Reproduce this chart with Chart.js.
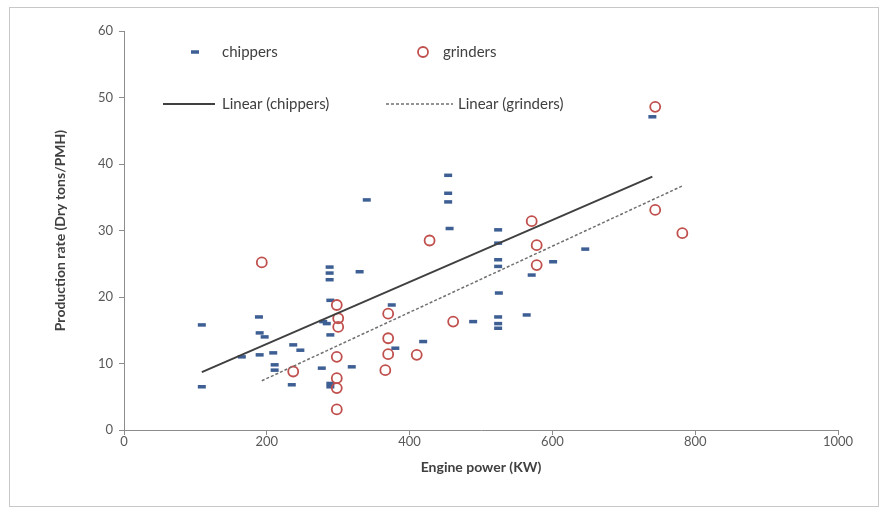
<!DOCTYPE html>
<html>
<head>
<meta charset="utf-8">
<script src="https://cdn.jsdelivr.net/npm/chart.js@4"></script>
<style>
  body { margin: 0; background: #fff; }
  .wrap { position: relative; width: 886px; height: 514px; }
  .frame { position: absolute; left: 9px; top: 7px; width: 868px; height: 498px; border: 1px solid #c8c8c8; pointer-events: none; }
</style>
</head>
<body>
<div class="wrap">
  <canvas id="chart" width="886" height="514"></canvas>
  <div class="frame"></div>
</div>
<script>
// chippers: engine power (kW) / production rate
const chipperPower = [109, 109, 165, 189, 190, 197, 190, 209, 211, 211, 235, 237, 247, 277, 279, 284,
  288, 288, 288, 289, 289, 289, 289, 319, 330, 340, 375, 380, 419, 454, 454, 454, 456, 489,
  524, 524, 524, 524, 525, 524, 524, 524, 564, 571, 601, 646, 740];
const chipperRate = [15.8, 6.5, 11.0, 17.0, 14.6, 14.0, 11.3, 11.6, 9.8, 9.0, 6.8, 12.8, 12.0, 9.3, 16.3, 16.0,
  24.5, 23.6, 22.6, 19.5, 14.3, 7.0, 6.5, 9.5, 23.8, 34.6, 18.8, 12.3, 13.3, 38.3, 35.6, 34.3, 30.3, 16.3,
  30.1, 28.1, 25.6, 24.6, 20.6, 17.0, 16.0, 15.3, 17.3, 23.3, 25.3, 27.2, 47.1];

// grinders
const grinderPower = [193, 237, 298, 300, 300, 298, 298, 298, 298, 370, 370, 370, 366, 410, 428, 461,
  571, 578, 578, 744, 744, 782];
const grinderRate = [25.2, 8.8, 18.8, 16.8, 15.5, 11.0, 7.8, 6.3, 3.1, 17.5, 13.8, 11.4, 9.0, 11.3, 28.5, 16.3,
  31.4, 27.8, 24.8, 48.6, 33.1, 29.6];

// trend line end points
const chipperTrendX = [109, 740];
const chipperTrendY = [8.7, 38.1];
const grinderTrendX = [193, 782];
const grinderTrendY = [7.4, 36.7];

const xTicks = [0, 200, 400, 600, 800, 1000];
const yTicks = [0, 10, 20, 30, 40, 50, 60];

const pts = (xs, ys) => xs.map((x, i) => ({ x: x, y: ys[i] }));

const FONT = 'Lato, "Open Sans", sans-serif';
const TXT = '#404040';
const CHIP = '#3d5f94';
const GRIND = '#c0504d';

// legend drawn inside the plot, two rows like the original
const insideLegend = {
  id: 'insideLegend',
  afterDraw(chart) {
    const ctx = chart.ctx;
    ctx.save();
    ctx.font = '15px ' + FONT;
    ctx.fillStyle = TXT;
    ctx.textBaseline = 'middle';
    // chippers
    ctx.strokeStyle = CHIP; ctx.lineWidth = 3.5;
    ctx.beginPath(); ctx.moveTo(191, 52); ctx.lineTo(199, 52); ctx.stroke();
    ctx.fillText('chippers', 222, 52);
    // grinders
    ctx.strokeStyle = GRIND; ctx.lineWidth = 1.8;
    ctx.beginPath(); ctx.arc(423, 52, 5, 0, Math.PI * 2); ctx.stroke();
    ctx.fillText('grinders', 443, 52);
    // linear chippers
    ctx.strokeStyle = '#404040'; ctx.lineWidth = 2;
    ctx.beginPath(); ctx.moveTo(163, 104); ctx.lineTo(215, 104); ctx.stroke();
    ctx.fillText('Linear (chippers)', 222, 104);
    // linear grinders
    ctx.strokeStyle = '#707070'; ctx.lineWidth = 1.5; ctx.setLineDash([3, 2]);
    ctx.beginPath(); ctx.moveTo(386, 104); ctx.lineTo(453, 104); ctx.stroke();
    ctx.setLineDash([]);
    ctx.fillText('Linear (grinders)', 458, 104);
    ctx.restore();
  }
};

new Chart(document.getElementById('chart'), {
  type: 'scatter',
  data: {
    datasets: [
      {
        label: 'chippers',
        data: pts(chipperPower, chipperRate),
        pointStyle: 'line',
        pointRadius: 4,
        borderWidth: 3.5,
        borderColor: CHIP,
        backgroundColor: CHIP,
        order: 3
      },
      {
        label: 'grinders',
        data: pts(grinderPower, grinderRate),
        pointStyle: 'circle',
        pointRadius: 5,
        borderWidth: 1.8,
        borderColor: GRIND,
        backgroundColor: 'rgba(0,0,0,0)',
        order: 2
      },
      {
        label: 'Linear (chippers)',
        type: 'line',
        data: pts(chipperTrendX, chipperTrendY),
        borderColor: '#404040',
        borderWidth: 2,
        pointRadius: 0,
        order: 1
      },
      {
        label: 'Linear (grinders)',
        type: 'line',
        data: pts(grinderTrendX, grinderTrendY),
        borderColor: '#707070',
        borderWidth: 1.5,
        borderDash: [3, 2],
        pointRadius: 0,
        order: 1
      }
    ]
  },
  options: {
    responsive: false,
    animation: false,
    layout: { padding: { left: 48, top: 31, right: 48, bottom: 34 } },
    plugins: { legend: { display: false }, tooltip: { enabled: false } },
    scales: {
      x: {
        type: 'linear',
        min: 0, max: 1000,
        afterBuildTicks: s => { s.ticks = xTicks.map(v => ({ value: v })); },
        grid: { drawOnChartArea: false, color: '#8c8c8c', tickLength: 5 },
        border: { color: '#8c8c8c' },
        ticks: { color: '#595959', font: { family: FONT, size: 13 }, padding: -1, maxRotation: 0, callback: v => String(v) },
        title: { display: true, text: 'Engine power (KW)', color: TXT, font: { family: FONT, size: 14, weight: 'bold' }, padding: { top: 4 } },
        afterFit: s => { s.height = 50; }
      },
      y: {
        min: 0, max: 60,
        afterBuildTicks: s => { s.ticks = yTicks.map(v => ({ value: v })); },
        grid: { drawOnChartArea: false, color: '#8c8c8c', tickLength: 5 },
        border: { color: '#8c8c8c' },
        ticks: { color: '#595959', font: { family: FONT, size: 13 }, padding: 6 },
        title: { display: true, text: 'Production rate (Dry tons/PMH)', color: TXT, font: { family: FONT, size: 14, weight: 'bold' }, padding: { bottom: 14 } },
        afterFit: s => { s.width = 76; }
      }
    }
  },
  plugins: [insideLegend]
});
</script>
</body>
</html>
